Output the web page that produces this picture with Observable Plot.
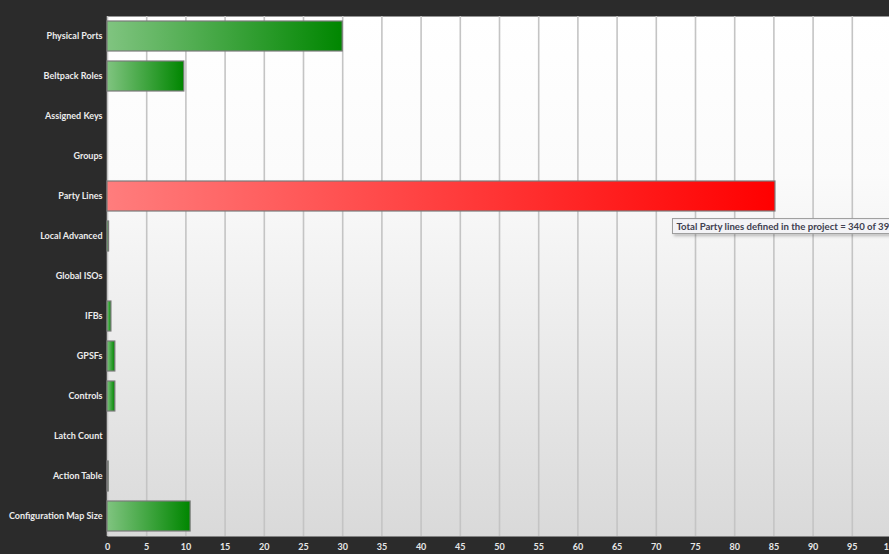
<!DOCTYPE html>
<html>
<head>
<meta charset="utf-8">
<script src="https://cdn.jsdelivr.net/npm/d3@7"></script>
<script src="https://cdn.jsdelivr.net/npm/@observablehq/plot@0.6"></script>
<style>
  html, body { margin: 0; padding: 0; background: #2b2b2b; overflow: hidden; width: 889px; height: 554px; }
  #chart svg { display: block; max-width: none !important; }
</style>
</head>
<body>
<div id="chart"></div>
<script>
// Resource usage categories (top to bottom)
const categories = [
  "Physical Ports", "Beltpack Roles", "Assigned Keys", "Groups", "Party Lines",
  "Local Advanced", "Global ISOs", "IFBs", "GPSFs", "Controls",
  "Latch Count", "Action Table", "Configuration Map Size"
];
// Percentage used
const usage = [30, 9.8, 0, 0, 85.2, 0.2, 0, 0.5, 1, 1, 0, 0.15, 10.6];
// Bar status: "ok" = green, "high" = red
const status = ["ok", "ok", "ok", "ok", "high", "ok", "ok", "ok", "ok", "ok", "ok", "ok", "ok"];
// x tick values
const xTicks = [0, 5, 10, 15, 20, 25, 30, 35, 40, 45, 50, 55, 60, 65, 70, 75, 80, 85, 90, 95, 100];
// Tooltip content
const partyUsed = 340;
const partyTotal = 399;
const tooltipText = `Total Party lines defined in the project = ${partyUsed} of ${partyTotal}`;

const data = categories.map((c, i) => ({category: c, value: usage[i], status: status[i]}));
const bars = data.filter(d => d.value > 0);
const tip = data.filter(d => d.category === "Party Lines").map(d => ({...d, text: tooltipText}));

const chart = Plot.plot({
  width: 905,
  height: 554,
  marginLeft: 107,
  marginRight: 14,
  marginTop: 16,
  marginBottom: 18,
  style: {background: "#2b2b2b", fontFamily: "Lato, 'Open Sans', sans-serif", maxWidth: "none"},
  x: {domain: [0, 100], ticks: xTicks},
  y: {domain: categories, paddingInner: 0.25, paddingOuter: 0.125},
  marks: [
    Plot.frame({fill: "url(#bgGrad)", stroke: "none"}),
    Plot.gridX(xTicks, {stroke: "#c4c4c4", strokeOpacity: 1, strokeWidth: 1.6}),
    Plot.barX(bars, {
      x: "value", y: "category",
      fill: d => d.status === "high" ? "url(#redGrad)" : "url(#greenGrad)",
      stroke: "#7a7a7a", strokeWidth: 1.2
    }),
    Plot.axisX(xTicks, {
      tickSize: 0, tickPadding: 7, fill: "#e8e8e8", fontSize: 9, fontWeight: "bold",
      tickFormat: d => String(d), label: null
    }),
    Plot.axisY({
      tickSize: 0, tickPadding: 5, fill: "#ececec", fontSize: 9, fontWeight: "bold", label: null
    }),
    Plot.text(tip, {
      x: "value", y: "category", text: "text",
      dx: -99, dy: 30, textAnchor: "start", fill: "#404050", fontSize: 9.6, fontWeight: "bold"
    })
  ]
});

// gradient definitions
const svg = d3.select(chart);
svg.style("max-width", "none");
const defs = svg.insert("defs", ":first-child");
const bg = defs.append("linearGradient").attr("id", "bgGrad").attr("x1", 0).attr("y1", 0).attr("x2", 0).attr("y2", 1);
bg.append("stop").attr("offset", "0").attr("stop-color", "#ffffff");
bg.append("stop").attr("offset", "0.3").attr("stop-color", "#fbfbfb");
bg.append("stop").attr("offset", "1").attr("stop-color", "#d9d9d9");
const g = defs.append("linearGradient").attr("id", "greenGrad").attr("x1", 0).attr("y1", 0).attr("x2", 1).attr("y2", 0);
g.append("stop").attr("offset", "0").attr("stop-color", "#80c480");
g.append("stop").attr("offset", "1").attr("stop-color", "#008600");
const r = defs.append("linearGradient").attr("id", "redGrad").attr("x1", 0).attr("y1", 0).attr("x2", 1).attr("y2", 0);
r.append("stop").attr("offset", "0").attr("stop-color", "#ff7d7d");
r.append("stop").attr("offset", "1").attr("stop-color", "#ff0000");
const sh = defs.append("filter").attr("id", "tipShadow").attr("x", "-10%").attr("y", "-50%").attr("width", "130%").attr("height", "250%");
sh.append("feDropShadow").attr("dx", 2).attr("dy", 2).attr("stdDeviation", 1.5).attr("flood-color", "#000").attr("flood-opacity", 0.25);

document.getElementById("chart").appendChild(chart);

// tooltip box behind text
svg.selectAll("text").filter(function() { return this.textContent === tooltipText; }).each(function() {
  const b = this.getBBox();
  d3.select(this.parentNode).insert("rect", () => this)
    .attr("transform", this.getAttribute("transform"))
    .attr("x", b.x - 4).attr("y", b.y - 2).attr("width", b.width + 40).attr("height", b.height + 4)
    .attr("fill", "#f3f3f6").attr("stroke", "#9a9a9a").attr("filter", "url(#tipShadow)");
});
</script>
</body>
</html>
